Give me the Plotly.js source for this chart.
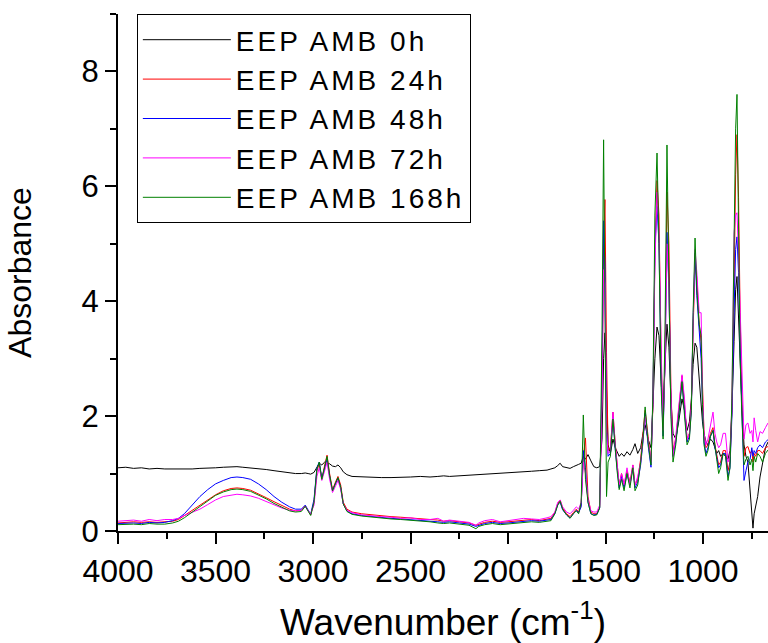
<!DOCTYPE html>
<html>
<head>
<meta charset="utf-8">
<script src="https://cdn.plot.ly/plotly-3.0.1.min.js"></script>
<style>
html,body{margin:0;padding:0;background:#fff;}
#chart{width:768px;height:643px;}
.legendtext{letter-spacing:3px;}
</style>
</head>
<body>
<div id="chart"></div>
<script>
// Wavenumber (cm-1), high-frequency region
var wnHigh = [4000,3960,3920,3880,3840,3800,3760,3720,3690,3660,
 3620,3580,3540,3500,3460,3420,3390,3360,3320,3280,
 3240,3200,3160,3120,3090,3060,3040,3025,3012,2995,
 2980,2968,2955,2940,2928,2915,2900,2885,2872,2858,
 2845,2826,2800,2750,2700,2650,2600,2550,2500,2450,
 2400,2360,2330,2300,2250,2200,2165,2150,2120,2080,
 2040,2000,1960,1920,1880,1840,1800];
// Wavenumber (cm-1), fingerprint region
var wnLow = [1780,1760,1745,1733,1720,1700,1682,1665,1650,1638,
 1625,1614,1603,1590,1575,1560,1545,1530,1518,1510,
 1503,1495,1487,1475,1462,1450,1441,1430,1418,1405,
 1390,1375,1360,1349,1335,1320,1308,1297,1282,1267,
 1257,1247,1236,1226,1215,1205,1195,1185,1175,1165,
 1154,1140,1125,1108,1095,1082,1070,1060,1051,1041,
 1032,1020,1010,1003,995,985,975,962,949,939,
 930,920,910,897,885,872,862,852,841,833,
 826,818,810,800,790,780,770,759,750,744,
 738,730,720,708,695,680,667];

var seriesNames = ["EEP AMB 0h","EEP AMB 24h","EEP AMB 48h","EEP AMB 72h","EEP AMB 168h"];

var abs0hHigh = [1.10,1.11,1.09,1.10,1.08,1.09,1.08,1.08,1.07,1.08,
 1.08,1.09,1.09,1.10,1.11,1.12,1.12,1.11,1.10,1.09,
 1.07,1.05,1.03,1.01,1.00,1.00,1.01,1.00,0.99,1.02,
 1.12,1.18,1.15,1.20,1.18,1.17,1.13,1.12,1.15,1.10,
 1.03,0.98,0.95,0.94,0.94,0.93,0.93,0.93,0.94,0.95,
 0.94,0.95,0.96,0.95,0.96,0.97,0.97,0.98,0.98,0.99,
 1.00,1.01,1.02,1.03,1.04,1.05,1.06];
var abs0hLow = [1.08,1.10,1.14,1.18,1.12,1.10,1.09,1.12,1.15,1.16,
 1.18,1.30,1.25,1.33,1.22,1.12,1.10,1.12,1.60,3.00,
 3.45,2.40,1.50,1.35,1.60,1.45,1.37,1.30,1.35,1.30,
 1.38,1.32,1.42,1.52,1.35,1.45,1.70,1.85,1.60,1.45,
 2.20,3.00,3.55,3.40,2.60,2.00,2.90,3.60,3.20,2.30,
 1.70,1.60,1.90,2.30,2.10,1.75,1.90,2.30,2.90,3.27,
 3.20,2.60,2.20,1.90,1.70,1.55,1.50,1.60,1.55,1.45,
 1.35,1.40,1.30,1.35,1.30,1.25,1.40,2.10,3.30,4.20,
 4.43,3.60,2.80,2.10,1.50,1.30,1.20,0.70,0.25,0.05,
 0.30,0.45,0.60,0.94,1.20,1.45,1.55];

var abs24hHigh = [0.14,0.15,0.16,0.15,0.16,0.15,0.16,0.17,0.20,0.27,
 0.36,0.45,0.55,0.63,0.70,0.74,0.75,0.74,0.71,0.65,
 0.58,0.51,0.44,0.38,0.35,0.36,0.44,0.36,0.28,0.50,
 1.05,1.17,0.90,1.15,1.32,1.00,0.72,0.85,0.95,0.80,
 0.50,0.38,0.33,0.30,0.28,0.26,0.25,0.24,0.23,0.22,
 0.21,0.19,0.17,0.18,0.16,0.14,0.10,0.12,0.15,0.17,
 0.15,0.16,0.17,0.19,0.20,0.18,0.20];
var abs24hLow = [0.22,0.32,0.48,0.54,0.40,0.30,0.25,0.32,0.38,0.33,
 0.45,1.30,1.62,0.60,0.33,0.30,0.30,0.42,2.50,5.00,
 5.77,3.10,1.40,1.45,2.07,1.50,1.20,0.80,1.00,0.80,
 1.05,0.85,1.15,0.80,0.90,1.25,1.70,2.10,1.65,1.20,
 2.20,4.80,6.10,5.50,3.00,1.80,3.00,5.90,5.00,2.50,
 1.40,1.60,2.10,2.70,2.20,1.60,1.70,2.20,3.50,4.67,
 4.40,3.60,3.30,2.50,1.70,1.45,1.50,1.70,1.80,1.50,
 1.35,1.15,1.20,1.40,1.40,1.05,1.20,2.10,4.20,6.20,
 6.90,5.80,3.80,2.20,1.30,1.45,1.47,1.35,1.40,1.20,
 1.35,1.30,1.40,1.40,1.35,1.45,1.47];

var abs48hHigh = [0.13,0.14,0.14,0.13,0.15,0.14,0.15,0.18,0.22,0.30,
 0.45,0.60,0.72,0.82,0.88,0.93,0.94,0.93,0.90,0.82,
 0.72,0.60,0.50,0.42,0.38,0.38,0.45,0.37,0.29,0.55,
 1.10,1.20,0.92,1.10,1.25,0.95,0.70,0.82,0.92,0.75,
 0.47,0.35,0.30,0.27,0.25,0.23,0.22,0.21,0.20,0.19,
 0.18,0.16,0.15,0.16,0.14,0.12,0.08,0.10,0.13,0.15,
 0.13,0.14,0.15,0.17,0.18,0.17,0.19];
var abs48hLow = [0.20,0.30,0.46,0.50,0.37,0.28,0.23,0.30,0.36,0.32,
 0.42,1.40,1.10,0.50,0.30,0.28,0.29,0.40,2.80,5.40,
 4.60,1.80,1.30,1.35,1.97,1.40,1.10,0.75,0.95,0.75,
 1.00,0.80,1.10,0.75,0.85,1.15,1.55,2.05,1.50,1.11,
 2.30,4.90,5.65,5.00,2.70,1.65,3.00,5.20,4.30,2.20,
 1.30,1.55,2.00,2.60,2.10,1.55,1.65,2.10,3.70,4.84,
 4.10,3.40,3.00,2.20,1.55,1.35,1.45,1.65,1.75,1.45,
 1.30,1.10,1.15,1.35,1.35,0.95,1.10,2.00,3.80,4.90,
 5.12,4.50,3.20,1.80,0.88,1.05,1.20,1.25,1.45,1.30,
 1.40,1.35,1.45,1.50,1.45,1.55,1.59];

var abs72hHigh = [0.17,0.18,0.19,0.17,0.20,0.18,0.20,0.20,0.22,0.27,
 0.33,0.38,0.46,0.54,0.60,0.63,0.64,0.63,0.61,0.57,
 0.51,0.45,0.40,0.36,0.35,0.36,0.43,0.35,0.30,0.45,
 0.95,1.10,0.88,1.05,1.20,0.90,0.67,0.78,0.88,0.72,
 0.47,0.36,0.32,0.28,0.26,0.25,0.24,0.22,0.23,0.20,
 0.20,0.22,0.17,0.19,0.17,0.15,0.10,0.14,0.18,0.20,
 0.16,0.18,0.20,0.22,0.21,0.20,0.23];
var abs72hLow = [0.25,0.33,0.50,0.54,0.42,0.33,0.30,0.36,0.42,0.38,
 0.50,1.20,1.00,0.55,0.35,0.33,0.33,0.45,2.30,4.55,
 4.30,1.70,1.35,1.40,2.07,1.50,1.15,0.80,1.00,0.80,
 1.10,0.80,1.15,0.80,0.95,1.20,1.60,2.00,1.60,1.20,
 2.30,4.60,5.90,5.20,3.20,1.75,2.90,5.00,4.20,2.40,
 1.30,1.65,2.15,2.72,2.30,1.59,1.70,2.20,3.60,4.90,
 4.50,3.80,3.80,2.40,1.70,1.50,1.60,1.85,2.07,1.70,
 1.55,1.45,1.50,1.70,1.70,1.20,1.30,2.20,5.19,5.50,
 5.54,4.80,3.80,2.40,1.60,1.85,1.88,1.70,1.75,1.55,
 1.97,1.75,1.55,1.73,1.70,1.80,1.88];

var abs168hHigh = [0.11,0.12,0.12,0.11,0.13,0.12,0.12,0.14,0.17,0.23,
 0.33,0.43,0.53,0.62,0.68,0.72,0.73,0.72,0.69,0.63,
 0.56,0.48,0.41,0.35,0.33,0.34,0.43,0.34,0.27,0.50,
 1.08,1.20,0.90,1.12,1.30,0.97,0.70,0.83,0.93,0.76,
 0.47,0.34,0.29,0.26,0.24,0.22,0.21,0.20,0.19,0.18,
 0.16,0.14,0.13,0.14,0.12,0.10,0.04,0.08,0.11,0.13,
 0.11,0.12,0.13,0.15,0.16,0.15,0.17];
var abs168hLow = [0.18,0.30,0.45,0.52,0.38,0.28,0.22,0.30,0.35,0.30,
 0.50,2.02,0.90,0.50,0.30,0.27,0.28,0.40,3.50,6.81,
 3.00,0.60,1.20,1.30,1.95,1.35,1.05,0.72,0.90,0.70,
 1.00,0.75,1.10,0.70,0.80,1.20,1.60,2.16,1.55,1.15,
 2.40,5.50,6.58,5.00,2.50,1.60,3.50,6.72,4.50,2.00,
 1.20,1.50,2.00,2.60,2.00,1.50,1.60,2.10,3.80,5.10,
 4.20,3.60,3.40,2.20,1.50,1.30,1.40,1.65,1.75,1.45,
 1.25,1.00,1.10,1.35,1.30,0.88,1.10,2.30,4.80,7.00,
 7.60,5.00,3.00,1.90,1.15,1.25,1.30,1.15,1.25,1.05,
 1.30,1.20,1.35,1.30,1.20,1.35,1.41];

var xTickVals = [4000,3500,3000,2500,2000,1500,1000];
var yTickVals = [0,2,4,6,8];

var wavenumber = wnHigh.concat(wnLow);
var seriesValues = [
  abs0hHigh.concat(abs0hLow),
  abs24hHigh.concat(abs24hLow),
  abs48hHigh.concat(abs48hLow),
  abs72hHigh.concat(abs72hLow),
  abs168hHigh.concat(abs168hLow)
];
var colors = ["#000000","#ff0000","#0000ff","#ff00ff","#008000"];

var FONT = "Liberation Sans, Arial, Helvetica, sans-serif";
var traces = seriesValues.map(function(v, i){
  return {
    x: wavenumber, y: v, type: "scatter", mode: "lines",
    name: seriesNames[i],
    line: {color: colors[i], width: 1}
  };
});

var layout = {
  width: 768, height: 643,
  margin: {l: 118, r: 0, t: 14, b: 112, pad: 0},
  paper_bgcolor: "#ffffff", plot_bgcolor: "#ffffff",
  font: {family: FONT, color: "#000000"},
  showlegend: true,
  legend: {
    x: 0.029, y: 1, xanchor: "left", yanchor: "top",
    bgcolor: "#ffffff", bordercolor: "#000000", borderwidth: 1,
    font: {family: FONT, size: 28, color: "#000000"},
    itemwidth: 88, tracegroupgap: 0
  },
  xaxis: {
    range: [4000, 667],
    tickvals: xTickVals, ticktext: xTickVals.map(String),
    ticks: "outside", ticklen: 11, tickwidth: 2, tickcolor: "#000",
    showline: true, linecolor: "#000", linewidth: 2,
    showgrid: false, zeroline: false,
    tickfont: {family: FONT, size: 32, color: "#000"},
    minor: {dtick: 250, tick0: 0, ticks: "outside", ticklen: 6, tickwidth: 2, tickcolor: "#000", showgrid: false},
    title: {text: "Wavenumber (cm<sup>-1</sup>)", font: {family: FONT, size: 37, color: "#000"}, standoff: 22}
  },
  yaxis: {
    range: [0, 9],
    tickvals: yTickVals, ticktext: yTickVals.map(String),
    ticks: "outside", ticklen: 11, tickwidth: 2, tickcolor: "#000",
    showline: true, linecolor: "#000", linewidth: 2,
    showgrid: false, zeroline: false,
    tickfont: {family: FONT, size: 31, color: "#000"},
    minor: {dtick: 1, tick0: 0, ticks: "outside", ticklen: 6, tickwidth: 2, tickcolor: "#000", showgrid: false},
    title: {text: "Absorbance", font: {family: FONT, size: 32, color: "#000"}, standoff: 40}
  }
};

Plotly.newPlot("chart", traces, layout, {displayModeBar: false, staticPlot: true});
</script>
</body>
</html>
